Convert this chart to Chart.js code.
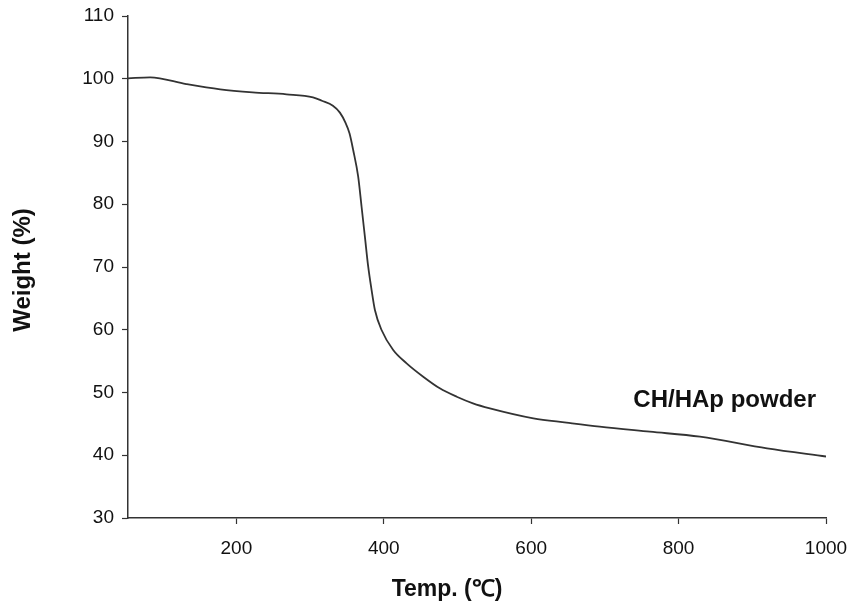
<!DOCTYPE html>
<html>
<head>
<meta charset="utf-8">
<style>
  html, body { margin: 0; padding: 0; background: #ffffff; }
  #wrap { width: 851px; height: 609px; position: relative; }
</style>
<script src="https://cdn.jsdelivr.net/npm/chart.js@4.4.0/dist/chart.umd.min.js"></script>
</head>
<body>
<div id="wrap"><canvas id="c" width="851" height="609"></canvas></div>
<script>
// Temperature (°C) readings along the TGA curve
const temps = [53, 83, 132, 178, 222, 268, 304, 316, 331, 340.5, 348, 353.5, 358.5, 365.3, 369.9, 374.4, 378.9, 383.5, 388, 397, 412.8, 431, 453.5, 476, 499, 521, 544, 603, 648, 693, 761, 829, 920, 1000];
// Weight (%) readings
const weights = [100.07, 100.23, 99.16, 98.32, 97.84, 97.52, 97.04, 96.5, 95.7, 94.6, 93.0, 91.3, 88.65, 84.4, 79.6, 74.83, 70.05, 66.33, 63.15, 59.96, 56.77, 54.65, 52.52, 50.67, 49.33, 48.28, 47.48, 45.89, 45.2, 44.55, 43.75, 42.96, 41.1, 39.8];
const xTicks = [200, 400, 600, 800, 1000];
const yTicks = [30, 40, 50, 60, 70, 80, 90, 100, 110];
const seriesLabel = 'CH/HAp powder';
const xTitle = 'Temp. (\u2103)';
const yTitle = 'Weight (%)';

const points = temps.map((t, i) => ({ x: t, y: weights[i] }));
const FONT = "'Liberation Sans', Arial, sans-serif";
const INK = '#111111';

const textPlugin = {
  id: 'textLabels',
  afterDatasetsDraw(chart) {
    const { ctx, scales, chartArea } = chart;
    ctx.save();
    ctx.fillStyle = INK;
    ctx.textAlign = 'center';
    ctx.textBaseline = 'middle';
    // series label
    ctx.font = "bold 24px " + FONT;
    ctx.fillText(seriesLabel, scales.x.getPixelForValue(862.5), scales.y.getPixelForValue(48.7));
    // x-axis title
    ctx.font = "bold 23px " + FONT;
    ctx.fillText(xTitle, (chartArea.left + chartArea.right) / 2 - 30, 590);
    // y-axis title
    ctx.translate(23, (chartArea.top + chartArea.bottom) / 2 + 3);
    ctx.rotate(-Math.PI / 2);
    ctx.font = "bold 24px " + FONT;
    ctx.fillText(yTitle, 0, 0);
    ctx.restore();
  }
};

new Chart(document.getElementById('c'), {
  type: 'line',
  data: {
    datasets: [{
      label: seriesLabel,
      data: points,
      borderColor: '#333333',
      borderWidth: 1.8,
      pointRadius: 0,
      fill: false,
      cubicInterpolationMode: 'monotone'
    }]
  },
  options: {
    responsive: false,
    animation: false,
    devicePixelRatio: 1,
    layout: { padding: { top: 16, right: 25, left: 0, bottom: 0 } },
    plugins: { legend: { display: false }, tooltip: { enabled: false } },
    scales: {
      x: {
        type: 'linear',
        min: 53,
        max: 1000,
        afterBuildTicks(scale) { scale.ticks = xTicks.map(v => ({ value: v })); },
        afterFit(scale) { scale.height = 91; scale.paddingLeft = 0; scale.paddingRight = 0; },
        grid: { display: true, drawOnChartArea: false, drawTicks: true, tickLength: 6, tickColor: '#333333', tickWidth: 1.2 },
        border: { display: true, color: '#333333', width: 1.5 },
        ticks: { color: INK, font: { family: FONT, size: 19 }, padding: 13, maxRotation: 0, callback: v => String(v) },
        title: { display: false }
      },
      y: {
        type: 'linear',
        min: 30,
        max: 110,
        afterBuildTicks(scale) { scale.ticks = yTicks.map(v => ({ value: v })); },
        afterFit(scale) { scale.width = 128; scale.paddingTop = 0; scale.paddingBottom = 0; },
        grid: { display: true, drawOnChartArea: false, drawTicks: true, tickLength: 6, tickColor: '#333333', tickWidth: 1.2 },
        border: { display: true, color: '#333333', width: 1.5 },
        ticks: { color: INK, font: { family: FONT, size: 19 }, padding: 8, callback: v => String(v) },
        title: { display: false }
      }
    }
  },
  plugins: [textPlugin]
});
</script>
</body>
</html>
